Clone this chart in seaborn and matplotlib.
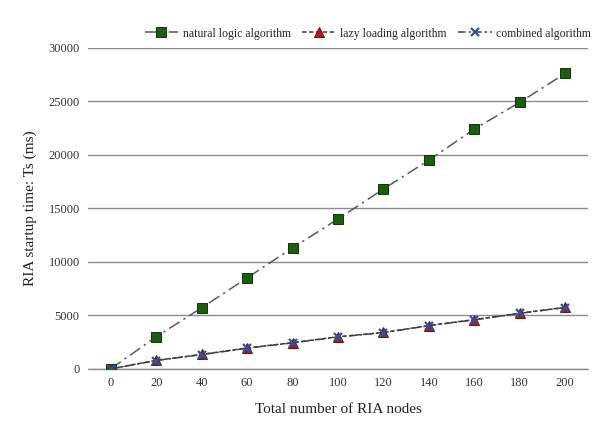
import numpy as np
import pandas as pd
import matplotlib
matplotlib.use("Agg")
import matplotlib.pyplot as plt
import seaborn as sns

sns.set_theme(style="white")
plt.rcParams['font.family'] = ['Liberation Serif', 'DejaVu Serif']

# data
nodes = [0, 20, 40, 60, 80, 100, 120, 140, 160, 180, 200]
natural_logic = [0, 3000, 5700, 8500, 11300, 14000, 16800, 19500, 22400, 24900, 27600]
lazy_loading = [0, 800, 1350, 1950, 2450, 3000, 3400, 4050, 4600, 5200, 5750]
combined = [0, 780, 1330, 1930, 2430, 2980, 3380, 4030, 4580, 5180, 5730]

df = pd.DataFrame({"nodes": nodes, "natural": natural_logic,
                   "lazy": lazy_loading, "combined": combined})

fig = plt.figure(figsize=(5.95, 4.23), dpi=100)
ax = fig.add_axes([0.148, 0.128, 0.84, 0.759])

ax.yaxis.grid(True, color="#8c8c8c", linewidth=1.0)
ax.set_axisbelow(True)

sns.lineplot(data=df, x="nodes", y="natural", ax=ax, color="#595959",
             linestyle=(0, (8, 3, 1.5, 3)), linewidth=1.1, marker="s", markersize=7,
             markerfacecolor="#1d5c12", markeredgecolor="#123a0b",
             label="natural logic algorithm", legend=False)
sns.lineplot(data=df, x="nodes", y="lazy", ax=ax, color="#404040",
             linestyle=(0, (3, 1.5)), linewidth=1.1, marker="^", markersize=7,
             markerfacecolor="#b01c10", markeredgecolor="#7a1008",
             label="lazy loading algorithm", legend=False)
sns.lineplot(data=df, x="nodes", y="combined", ax=ax, color="#404040",
             linestyle=(0, (5, 2, 1.5, 2)), linewidth=1.1, marker="x", markersize=6,
             markeredgewidth=1.6, markeredgecolor="#2f4f9f",
             label="combined algorithm", legend=False)
handles = ax.get_lines()[:3]

ax.axhline(0, color="#8c8c8c", linewidth=1.0, clip_on=False, zorder=0.5)

ax.set_xlim(-10, 210)
ax.set_ylim(0, 30000)
ax.set_xticks(nodes)
ax.set_yticks(np.arange(0, 30001, 5000))
ax.tick_params(axis="both", labelsize=9, colors="#333333", length=0, pad=6)
for s in ax.spines.values():
    s.set_visible(False)

ax.set_xlabel("Total number of RIA nodes", fontsize=11, color="#222222", labelpad=10)
ax.set_ylabel("RIA startup time: Ts (ms)", fontsize=11, color="#222222", labelpad=8)

ax.legend(handles=handles, labels=[h.get_label() for h in handles],
          loc="lower center", bbox_to_anchor=(0.56, 1.0), ncol=3, frameon=False,
          fontsize=8.5, handlelength=2.8, columnspacing=1.0, handletextpad=0.4,
          borderaxespad=0.3)

fig.savefig("out.png", dpi=100)
